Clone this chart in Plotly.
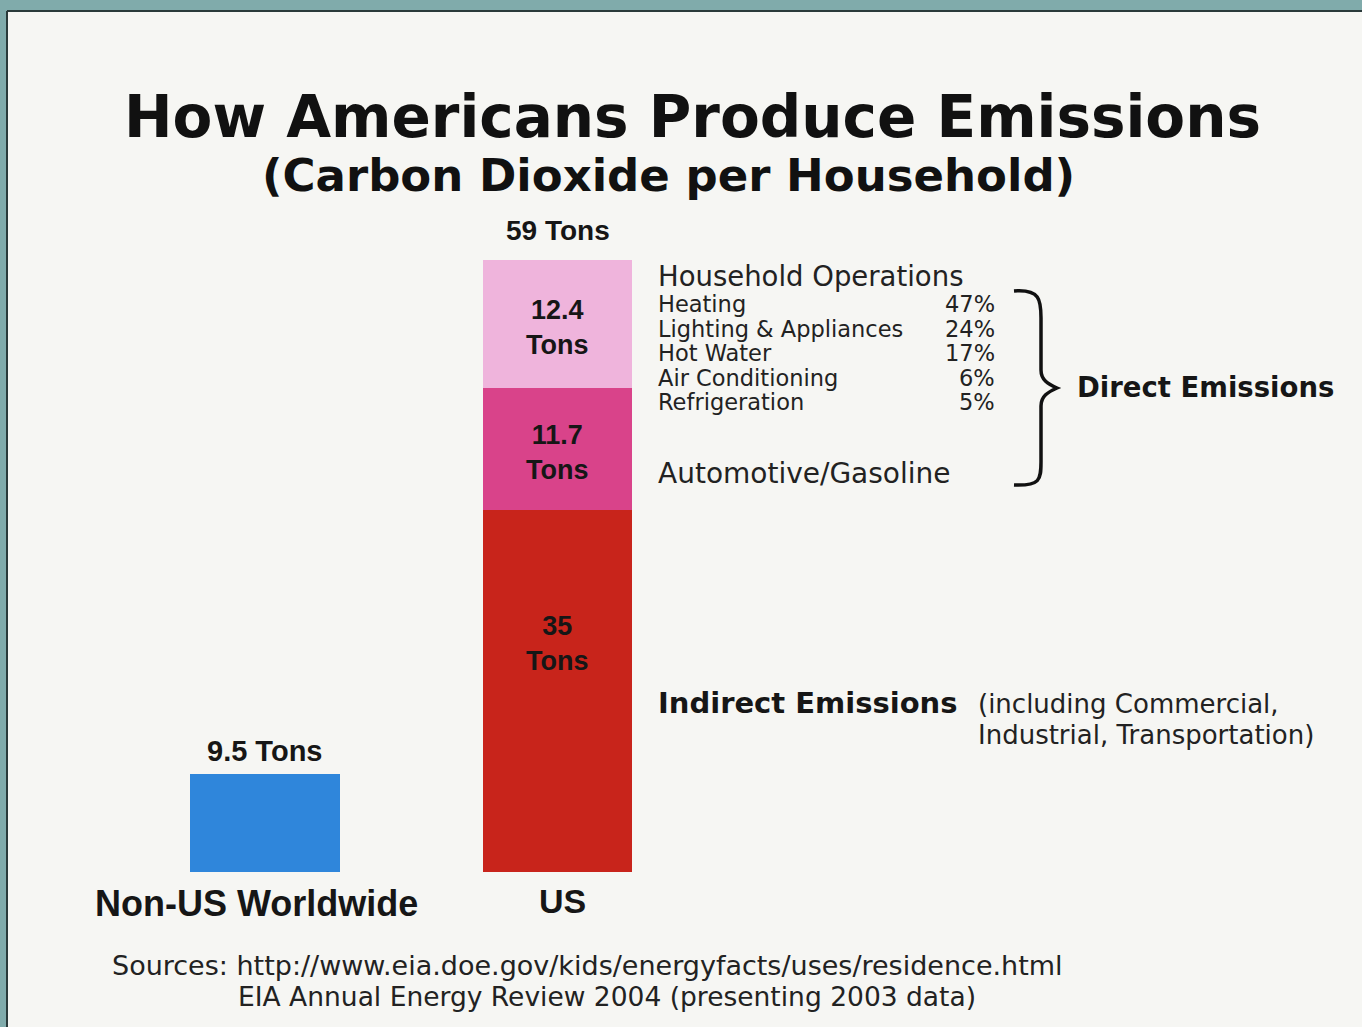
import plotly.graph_objects as go

# --- data ---
regions = ['Non-US Worldwide', 'US']
non_us_total = 9.5
us_segments = ['Indirect Emissions', 'Automotive/Gasoline', 'Household Operations']
us_values = [35, 11.7, 12.4]
us_total_label = 59
segment_colors = ['#c8241b', '#d9438a', '#efb4dc']

household_uses = ['Heating', 'Lighting & Appliances', 'Hot Water', 'Air Conditioning', 'Refrigeration']
household_pcts = [47, 24, 17, 6, 5]

W, H = 1362, 1027
L, T = 7, 11


def px(x):
    return (x - L) / (W - L)


def py(y):
    return (H - y) / (H - T)


fig = go.Figure()

fig.add_trace(go.Bar(x=[regions[0]], y=[non_us_total], marker_color='#2f86db',
                     marker_line_width=0, width=0.51, showlegend=False))
for name, val, col in zip(us_segments, us_values, segment_colors):
    fig.add_trace(go.Bar(x=[regions[1]], y=[val], name=name, marker_color=col,
                         marker_line_width=0, width=0.51, showlegend=False))

ann = []
dark = '#161616'
txt = '#222222'
bold_font = 'Liberation Sans'


def note(text, x, y, size, family='DejaVu Sans', color=txt, xanchor='left', **kw):
    ann.append(dict(x=x, y=y, text=text, showarrow=False, xanchor=xanchor,
                    yanchor=kw.pop('yanchor', 'middle'),
                    xref=kw.pop('xref', 'paper'), yref=kw.pop('yref', 'paper'),
                    font=dict(family=family, size=size, color=color), **kw))


# labels inside the US bar
base = 0
for i, val in enumerate(us_values):
    shift = 47 if i == 0 else -3
    note(f'<b>{val:g}<br>Tons</b>', regions[1], base + val / 2, 27, bold_font, dark,
         'center', xref='x', yref='y', yshift=shift)
    base += val

# totals above bars
note(f'<b>{us_total_label} Tons</b>', regions[1], sum(us_values), 28, bold_font, dark,
     'center', xref='x', yref='y', yanchor='bottom', yshift=12)
note(f'<b>{non_us_total:g} Tons</b>', regions[0], non_us_total, 29, bold_font, dark,
     'center', xref='x', yref='y', yanchor='bottom', yshift=5)

# category labels
note('<b>Non-US Worldwide</b>', regions[0], py(903), 36, bold_font, dark, 'center',
     xref='x', xshift=-9)
note('<b>US</b>', regions[1], py(901), 34, bold_font, dark, 'center', xref='x', xshift=5)

# titles
note('<b>How Americans Produce Emissions</b>', px(692), py(117), 58, color='#111111',
     xanchor='center')
note('<b>(Carbon Dioxide per Household)</b>', px(668), py(175), 45, color='#111111',
     xanchor='center')

# right hand breakdown
note('Household Operations', px(656), py(276), 27.5)
rows_y = [304, 329, 353, 378, 402]
for name, pct, yy in zip(household_uses, household_pcts, rows_y):
    note(name, px(656), py(yy), 22.5)
    note(f'{pct}%', px(997), py(yy), 22.5, xanchor='right')
note(us_segments[1], px(656), py(474), 28)
note('<b>Direct Emissions</b>', px(1075), py(387), 27.5, color=dark)
note('<b>' + us_segments[0] + '</b>', px(656), py(703), 29, color=dark)
note('(including Commercial,', px(976), py(704), 26)
note('Industrial, Transportation)', px(976), py(735), 26)

# sources
note('Sources: http://www.eia.doe.gov/kids/energyfacts/uses/residence.html',
     px(110), py(965), 27)
note('EIA Annual Energy Review 2004 (presenting 2003 data)', px(236), py(996), 26.5)

# curly brace
brace = (f'M {px(1014)},{py(291)} C {px(1040)},{py(289)} {px(1041)},{py(300)} {px(1041)},{py(318)} '
         f'L {px(1041)},{py(370)} C {px(1041)},{py(380)} {px(1048)},{py(384)} {px(1057)},{py(388)} '
         f'C {px(1048)},{py(392)} {px(1041)},{py(396)} {px(1041)},{py(406)} '
         f'L {px(1041)},{py(462)} C {px(1041)},{py(480)} {px(1040)},{py(486)} {px(1014)},{py(485)}')

shapes = [
    dict(type='path', path=brace, xref='paper', yref='paper',
         line=dict(color='#111111', width=3.5)),
    dict(type='line', xref='paper', yref='paper', x0=0, x1=1, y0=1, y1=1,
         line=dict(color='#2a3a3a', width=2)),
    dict(type='line', xref='paper', yref='paper', x0=0, x1=0, y0=0, y1=1,
         line=dict(color='#2a3a3a', width=2)),
]

fig.update_layout(
    width=W, height=H,
    barmode='stack',
    paper_bgcolor='#80abab',
    plot_bgcolor='#f6f6f3',
    margin=dict(l=L, r=0, t=T, b=0),
    xaxis=dict(type='category', range=[-0.882, 3.75], visible=False, fixedrange=True),
    yaxis=dict(range=[-14.97, 83.15], visible=False, fixedrange=True),
    annotations=ann,
    shapes=shapes,
    showlegend=False,
)

fig.write_html("out.html", config={'displayModeBar': False},
               post_script="document.body.style.margin='0';")
